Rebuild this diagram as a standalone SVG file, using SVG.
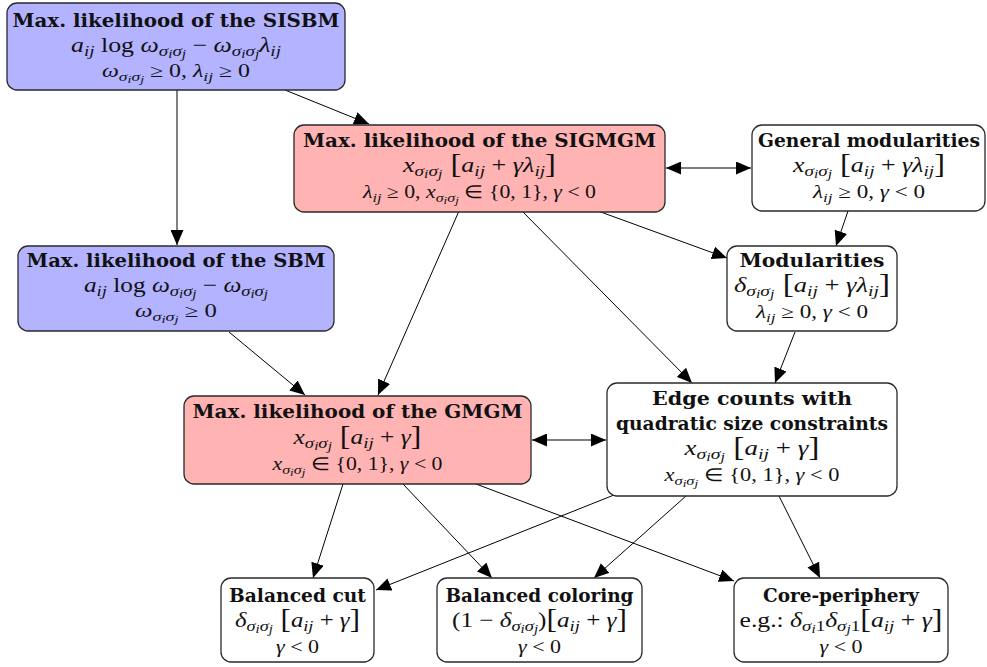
<svg xmlns="http://www.w3.org/2000/svg" width="987" height="667" viewBox="0 0 987 667">
<style>
.box{stroke:#2a2a2a;stroke-width:1.3}
.blue{fill:#b3b3ff}.red{fill:#ffb3b3}.white{fill:#ffffff}
.t{font-family:"DejaVu Serif",serif;font-weight:bold;font-size:18.5px;text-anchor:middle;fill:#111}
.m{font-family:"Liberation Serif",serif;font-style:italic;font-size:21px;text-anchor:middle;fill:#111}
.m3{font-family:"Liberation Serif",serif;font-style:italic;font-size:18px;text-anchor:middle;fill:#111}
.u{font-style:normal}
.s{font-size:0.74em}
.ss{font-size:0.8em}
.br{font-style:normal;font-size:1.25em}
.edge{stroke:#000;stroke-width:1;fill:none}
</style>
<defs>
<marker id="ah" viewBox="0 0 15 13" refX="15" refY="6.5" markerWidth="15" markerHeight="13" orient="auto-start-reverse" markerUnits="userSpaceOnUse"><path d="M0,0 L15,6.5 L0,13 Z" fill="#000"/></marker>
</defs>
<g id="connectors">
<line class="edge" x1="285" y1="90" x2="369" y2="124" marker-end="url(#ah)"/>
<line class="edge" x1="177" y1="90" x2="177" y2="245" marker-end="url(#ah)"/>
<line class="edge" x1="666" y1="168" x2="751" y2="168" marker-start="url(#ah)" marker-end="url(#ah)"/>
<line class="edge" x1="598" y1="211" x2="727" y2="258" marker-end="url(#ah)"/>
<line class="edge" x1="848" y1="211" x2="836" y2="246" marker-end="url(#ah)"/>
<line class="edge" x1="459" y1="211" x2="378" y2="395" marker-end="url(#ah)"/>
<line class="edge" x1="522" y1="211" x2="692" y2="383" marker-end="url(#ah)"/>
<line class="edge" x1="229" y1="332" x2="305" y2="395" marker-end="url(#ah)"/>
<line class="edge" x1="795" y1="332" x2="775" y2="383" marker-end="url(#ah)"/>
<line class="edge" x1="532" y1="440" x2="606" y2="440" marker-start="url(#ah)" marker-end="url(#ah)"/>
<line class="edge" x1="343" y1="484" x2="313" y2="578" marker-end="url(#ah)"/>
<line class="edge" x1="403" y1="484" x2="492" y2="578" marker-end="url(#ah)"/>
<line class="edge" x1="476" y1="484" x2="734" y2="581" marker-end="url(#ah)"/>
<line class="edge" x1="614" y1="495" x2="376" y2="590" marker-end="url(#ah)"/>
<line class="edge" x1="686" y1="496" x2="594" y2="578" marker-end="url(#ah)"/>
<line class="edge" x1="779" y1="496" x2="820" y2="578" marker-end="url(#ah)"/>
</g>
<g id="sisbm">
<rect class="box blue" x="7" y="3" width="338" height="87" rx="10"/>
<text class="t" x="176" y="27" textLength="327" lengthAdjust="spacingAndGlyphs">Max. likelihood of the SISBM</text>
<text class="m" x="176" y="52" textLength="210" lengthAdjust="spacingAndGlyphs">a<tspan class="s" dy="4">ij</tspan><tspan class="u" dy="-4"> log </tspan>ω<tspan class="s" dy="4">σ<tspan class="ss" dy="2">i</tspan><tspan dy="-2">σ</tspan><tspan class="ss" dy="2">j</tspan></tspan><tspan class="u" dy="-6"> − </tspan>ω<tspan class="s" dy="4">σ<tspan class="ss" dy="2">i</tspan><tspan dy="-2">σ</tspan><tspan class="ss" dy="2">j</tspan></tspan><tspan dy="-6">λ</tspan><tspan class="s" dy="4">ij</tspan></text>
<text class="m3" x="176" y="77" textLength="148" lengthAdjust="spacingAndGlyphs">ω<tspan class="s" dy="4">σ<tspan class="ss" dy="2">i</tspan><tspan dy="-2">σ</tspan><tspan class="ss" dy="2">j</tspan></tspan><tspan class="u" dy="-6"> ≥ 0, </tspan>λ<tspan class="s" dy="4">ij</tspan><tspan class="u" dy="-4"> ≥ 0</tspan></text>
</g>
<g id="sigmgm">
<rect class="box red" x="294" y="125" width="371" height="87" rx="10"/>
<text class="t" x="479.5" y="147" textLength="353" lengthAdjust="spacingAndGlyphs">Max. likelihood of the SIGMGM</text>
<text class="m" x="479.5" y="172" textLength="153" lengthAdjust="spacingAndGlyphs">x<tspan class="s" dy="4">σ<tspan class="ss" dy="2">i</tspan><tspan dy="-2">σ</tspan><tspan class="ss" dy="2">j</tspan></tspan><tspan class="br" dy="-5"> [</tspan><tspan dy="-1">a</tspan><tspan class="s" dy="4">ij</tspan><tspan class="u" dy="-4"> + </tspan>γλ<tspan class="s" dy="4">ij</tspan><tspan class="br" dy="-3">]</tspan></text>
<text class="m3" x="479.5" y="198" textLength="233" lengthAdjust="spacingAndGlyphs">λ<tspan class="s" dy="4">ij</tspan><tspan class="u" dy="-4"> ≥ 0, </tspan>x<tspan class="s" dy="4">σ<tspan class="ss" dy="2">i</tspan><tspan dy="-2">σ</tspan><tspan class="ss" dy="2">j</tspan></tspan><tspan class="u" dy="-6"> ∈ {0, 1}, </tspan>γ<tspan class="u"> &lt; 0</tspan></text>
</g>
<g id="general">
<rect class="box white" x="752" y="125" width="233" height="86" rx="10"/>
<text class="t" x="869" y="147" textLength="222" lengthAdjust="spacingAndGlyphs">General modularities</text>
<text class="m" x="869" y="172" textLength="152" lengthAdjust="spacingAndGlyphs">x<tspan class="s" dy="4">σ<tspan class="ss" dy="2">i</tspan><tspan dy="-2">σ</tspan><tspan class="ss" dy="2">j</tspan></tspan><tspan class="br" dy="-5"> [</tspan><tspan dy="-1">a</tspan><tspan class="s" dy="4">ij</tspan><tspan class="u" dy="-4"> + </tspan>γλ<tspan class="s" dy="4">ij</tspan><tspan class="br" dy="-3">]</tspan></text>
<text class="m3" x="869" y="198" textLength="112" lengthAdjust="spacingAndGlyphs">λ<tspan class="s" dy="4">ij</tspan><tspan class="u" dy="-4"> ≥ 0, </tspan>γ<tspan class="u"> &lt; 0</tspan></text>
</g>
<g id="sbm">
<rect class="box blue" x="18" y="246" width="316" height="85" rx="10"/>
<text class="t" x="176" y="267" textLength="299" lengthAdjust="spacingAndGlyphs">Max. likelihood of the SBM</text>
<text class="m" x="176" y="292" textLength="184" lengthAdjust="spacingAndGlyphs">a<tspan class="s" dy="4">ij</tspan><tspan class="u" dy="-4"> log </tspan>ω<tspan class="s" dy="4">σ<tspan class="ss" dy="2">i</tspan><tspan dy="-2">σ</tspan><tspan class="ss" dy="2">j</tspan></tspan><tspan class="u" dy="-6"> − </tspan>ω<tspan class="s" dy="4">σ<tspan class="ss" dy="2">i</tspan><tspan dy="-2">σ</tspan><tspan class="ss" dy="2">j</tspan></tspan></text>
<text class="m3" x="176" y="317" textLength="82" lengthAdjust="spacingAndGlyphs">ω<tspan class="s" dy="4">σ<tspan class="ss" dy="2">i</tspan><tspan dy="-2">σ</tspan><tspan class="ss" dy="2">j</tspan></tspan><tspan class="u" dy="-6"> ≥ 0</tspan></text>
</g>
<g id="modularities">
<rect class="box white" x="727" y="246" width="170" height="85" rx="10"/>
<text class="t" x="812" y="267" textLength="145" lengthAdjust="spacingAndGlyphs">Modularities</text>
<text class="m" x="812" y="292" textLength="156" lengthAdjust="spacingAndGlyphs">δ<tspan class="s" dy="4">σ<tspan class="ss" dy="2">i</tspan><tspan dy="-2">σ</tspan><tspan class="ss" dy="2">j</tspan></tspan><tspan class="br" dy="-5"> [</tspan><tspan dy="-1">a</tspan><tspan class="s" dy="4">ij</tspan><tspan class="u" dy="-4"> + </tspan>γλ<tspan class="s" dy="4">ij</tspan><tspan class="br" dy="-3">]</tspan></text>
<text class="m3" x="812" y="318" textLength="112" lengthAdjust="spacingAndGlyphs">λ<tspan class="s" dy="4">ij</tspan><tspan class="u" dy="-4"> ≥ 0, </tspan>γ<tspan class="u"> &lt; 0</tspan></text>
</g>
<g id="gmgm">
<rect class="box red" x="184" y="396" width="347" height="88" rx="10"/>
<text class="t" x="357.5" y="418" textLength="330" lengthAdjust="spacingAndGlyphs">Max. likelihood of the GMGM</text>
<text class="m" x="357.5" y="444" textLength="128" lengthAdjust="spacingAndGlyphs">x<tspan class="s" dy="4">σ<tspan class="ss" dy="2">i</tspan><tspan dy="-2">σ</tspan><tspan class="ss" dy="2">j</tspan></tspan><tspan class="br" dy="-5"> [</tspan><tspan dy="-1">a</tspan><tspan class="s" dy="4">ij</tspan><tspan class="u" dy="-4"> + </tspan>γ<tspan class="br" dy="1">]</tspan></text>
<text class="m3" x="357.5" y="470" textLength="170" lengthAdjust="spacingAndGlyphs">x<tspan class="s" dy="4">σ<tspan class="ss" dy="2">i</tspan><tspan dy="-2">σ</tspan><tspan class="ss" dy="2">j</tspan></tspan><tspan class="u" dy="-6"> ∈ {0, 1}, </tspan>γ<tspan class="u"> &lt; 0</tspan></text>
</g>
<g id="edgecounts">
<rect class="box white" x="607" y="383" width="290" height="113" rx="10"/>
<text class="t" x="752" y="405" textLength="200" lengthAdjust="spacingAndGlyphs">Edge counts with</text>
<text class="t" x="752" y="430" textLength="272" lengthAdjust="spacingAndGlyphs">quadratic size constraints</text>
<text class="m" x="752" y="455" textLength="135" lengthAdjust="spacingAndGlyphs">x<tspan class="s" dy="4">σ<tspan class="ss" dy="2">i</tspan><tspan dy="-2">σ</tspan><tspan class="ss" dy="2">j</tspan></tspan><tspan class="br" dy="-5"> [</tspan><tspan dy="-1">a</tspan><tspan class="s" dy="4">ij</tspan><tspan class="u" dy="-4"> + </tspan>γ<tspan class="br" dy="1">]</tspan></text>
<text class="m3" x="752" y="481" textLength="175" lengthAdjust="spacingAndGlyphs">x<tspan class="s" dy="4">σ<tspan class="ss" dy="2">i</tspan><tspan dy="-2">σ</tspan><tspan class="ss" dy="2">j</tspan></tspan><tspan class="u" dy="-6"> ∈ {0, 1}, </tspan>γ<tspan class="u"> &lt; 0</tspan></text>
</g>
<g id="balancedcut">
<rect class="box white" x="221" y="578" width="153" height="84" rx="10"/>
<text class="t" x="297.5" y="602" textLength="137" lengthAdjust="spacingAndGlyphs">Balanced cut</text>
<text class="m" x="297.5" y="627" textLength="125" lengthAdjust="spacingAndGlyphs">δ<tspan class="s" dy="4">σ<tspan class="ss" dy="2">i</tspan><tspan dy="-2">σ</tspan><tspan class="ss" dy="2">j</tspan></tspan><tspan class="br" dy="-5"> [</tspan><tspan dy="-1">a</tspan><tspan class="s" dy="4">ij</tspan><tspan class="u" dy="-4"> + </tspan>γ<tspan class="br" dy="1">]</tspan></text>
<text class="m3" x="297.5" y="653" textLength="43" lengthAdjust="spacingAndGlyphs">γ<tspan class="u"> &lt; 0</tspan></text>
</g>
<g id="balancedcoloring">
<rect class="box white" x="437" y="578" width="205" height="84" rx="10"/>
<text class="t" x="539.5" y="602" textLength="188" lengthAdjust="spacingAndGlyphs">Balanced coloring</text>
<text class="m" x="539.5" y="627" textLength="175" lengthAdjust="spacingAndGlyphs"><tspan class="u">(1 − </tspan>δ<tspan class="s" dy="4">σ<tspan class="ss" dy="2">i</tspan><tspan dy="-2">σ</tspan><tspan class="ss" dy="2">j</tspan></tspan><tspan class="u" dy="-6">)</tspan><tspan class="br" dy="1">[</tspan><tspan dy="-1">a</tspan><tspan class="s" dy="4">ij</tspan><tspan class="u" dy="-4"> + </tspan>γ<tspan class="br" dy="1">]</tspan></text>
<text class="m3" x="539.5" y="653" textLength="43" lengthAdjust="spacingAndGlyphs">γ<tspan class="u"> &lt; 0</tspan></text>
</g>
<g id="coreperiphery">
<rect class="box white" x="734" y="578" width="214" height="84" rx="10"/>
<text class="t" x="841" y="602" textLength="156" lengthAdjust="spacingAndGlyphs">Core-periphery</text>
<text class="m" x="841" y="627" textLength="203" lengthAdjust="spacingAndGlyphs"><tspan class="u">e.g.: </tspan>δ<tspan class="s" dy="4">σ<tspan class="ss" dy="2">i</tspan><tspan class="u" dy="-2">1</tspan></tspan><tspan dy="-4">δ</tspan><tspan class="s" dy="4">σ<tspan class="ss" dy="2">j</tspan><tspan class="u" dy="-2">1</tspan></tspan><tspan class="br" dy="-3">[</tspan><tspan dy="-1">a</tspan><tspan class="s" dy="4">ij</tspan><tspan class="u" dy="-4"> + </tspan>γ<tspan class="br" dy="1">]</tspan></text>
<text class="m3" x="841" y="653" textLength="43" lengthAdjust="spacingAndGlyphs">γ<tspan class="u"> &lt; 0</tspan></text>
</g>
</svg>
